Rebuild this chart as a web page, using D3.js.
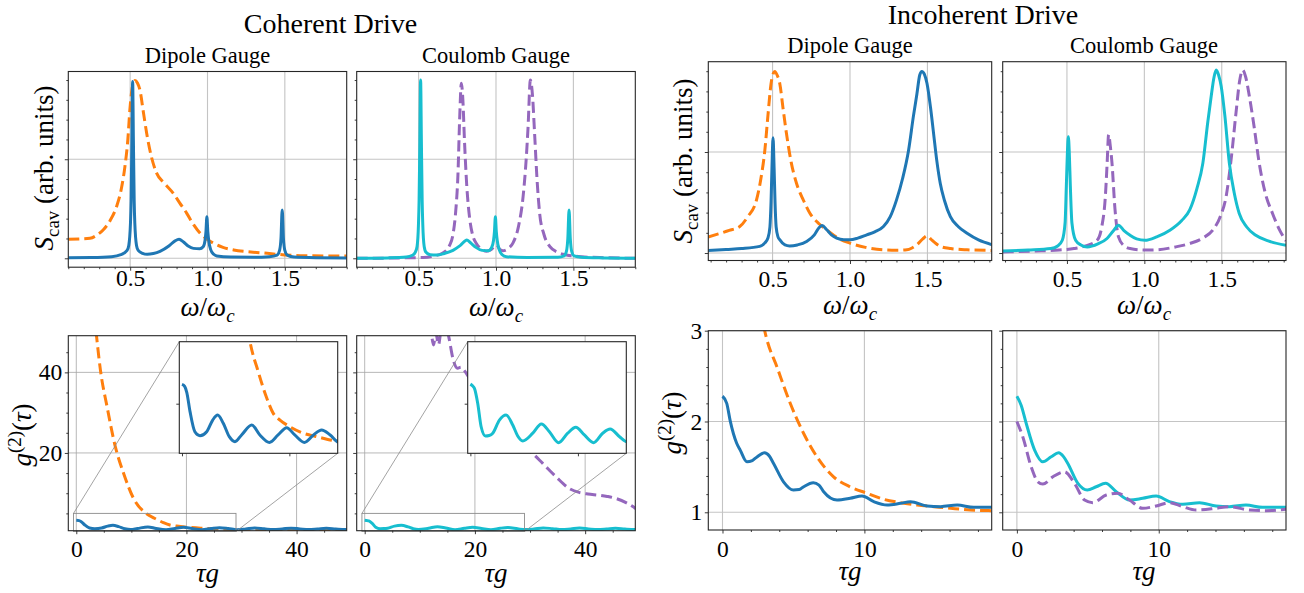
<!DOCTYPE html>
<html>
<head>
<meta charset="utf-8">
<script src="https://cdn.jsdelivr.net/npm/d3@7"></script>
<style>
  body { margin: 0; background: #fff; }
  svg, text, tspan { font-family: "Liberation Serif", "Times New Roman", Tinos, "DejaVu Serif", "Noto Serif", "Nimbus Roman", FreeSerif, "Latin Modern Roman", "CMU Serif", serif; }
  text { fill: #000; }
</style>
</head>
<body>
<svg id="fig" width="1304" height="593"><defs></defs></svg>
<script>

// ---------- data ----------
// spectra S_cav vs omega/omega_c  [x, S]
const cohDipoleSpec_blue = [[0.10,0.003],[0.25,0.004],[0.38,0.008],[0.44,0.018],[0.48,0.04],[0.491,0.065],[0.502,0.178],[0.506,0.29],[0.511,0.59],[0.516,0.892],[0.521,0.59],[0.526,0.29],[0.530,0.178],[0.541,0.065],[0.552,0.04],[0.58,0.025],[0.61,0.02],[0.65,0.024],[0.693,0.035],[0.75,0.062],[0.79,0.088],[0.816,0.096],[0.845,0.082],[0.875,0.062],[0.909,0.05],[0.95,0.048],[0.972,0.058],[0.984,0.09],[0.990,0.135],[0.996,0.21],[1.002,0.135],[1.008,0.09],[1.02,0.045],[1.04,0.02],[1.06,0.012],[1.15,0.006],[1.3,0.005],[1.40,0.008],[1.45,0.016],[1.466,0.04],[1.475,0.1],[1.483,0.244],[1.491,0.1],[1.50,0.04],[1.516,0.016],[1.56,0.006],[1.7,0.003],[1.9,0.002]];
const cohDipoleSpec_orange = [[0.10,0.096],[0.17,0.097],[0.24,0.101],[0.29,0.12],[0.325,0.143],[0.37,0.19],[0.412,0.261],[0.44,0.34],[0.466,0.463],[0.485,0.60],[0.498,0.749],[0.513,0.86],[0.531,0.897],[0.547,0.885],[0.563,0.85],[0.585,0.74],[0.607,0.63],[0.635,0.52],[0.671,0.43],[0.72,0.38],[0.779,0.328],[0.82,0.28],[0.866,0.227],[0.91,0.17],[0.953,0.126],[1.0,0.095],[1.039,0.076],[1.1,0.055],[1.169,0.042],[1.28,0.032],[1.386,0.025],[1.45,0.02],[1.5,0.017],[1.6,0.013],[1.75,0.012],[1.9,0.012]];
const cohCoulombSpec_cyan = [[0.10,0.0],[0.30,0.002],[0.42,0.006],[0.46,0.015],[0.478,0.03],[0.49,0.06],[0.499,0.17],[0.503,0.29],[0.508,0.59],[0.513,0.90],[0.518,0.59],[0.523,0.29],[0.527,0.17],[0.536,0.06],[0.548,0.03],[0.575,0.018],[0.615,0.016],[0.665,0.024],[0.722,0.04],[0.77,0.065],[0.812,0.092],[0.84,0.075],[0.87,0.055],[0.91,0.04],[0.95,0.038],[0.972,0.055],[0.984,0.09],[0.990,0.135],[0.996,0.21],[1.002,0.135],[1.008,0.09],[1.02,0.045],[1.04,0.018],[1.067,0.008],[1.2,0.004],[1.40,0.005],[1.44,0.012],[1.455,0.035],[1.464,0.1],[1.472,0.244],[1.48,0.1],[1.489,0.035],[1.505,0.012],[1.55,0.005],[1.7,0.002],[1.9,0.0]];
const cohCoulombSpec_purple = [[0.10,0.0],[0.40,0.002],[0.53,0.004],[0.60,0.012],[0.657,0.027],[0.70,0.065],[0.722,0.12],[0.74,0.24],[0.754,0.42],[0.765,0.70],[0.776,0.884],[0.786,0.80],[0.796,0.60],[0.81,0.38],[0.83,0.20],[0.85,0.115],[0.873,0.075],[0.90,0.05],[0.938,0.036],[0.97,0.045],[1.003,0.067],[1.025,0.045],[1.045,0.038],[1.08,0.05],[1.11,0.078],[1.145,0.16],[1.175,0.311],[1.195,0.50],[1.207,0.66],[1.222,0.90],[1.236,0.82],[1.25,0.62],[1.265,0.40],[1.282,0.227],[1.31,0.12],[1.347,0.06],[1.40,0.03],[1.455,0.017],[1.55,0.008],[1.7,0.003],[1.9,0.0]];

const incDipoleSpec_blue = [[0.083,0.013],[0.2,0.018],[0.3,0.022],[0.417,0.033],[0.45,0.05],[0.47,0.074],[0.483,0.13],[0.490,0.25],[0.496,0.42],[0.503,0.57],[0.510,0.42],[0.516,0.25],[0.523,0.13],[0.535,0.08],[0.546,0.066],[0.58,0.04],[0.61,0.035],[0.66,0.04],[0.72,0.057],[0.77,0.09],[0.80,0.125],[0.82,0.136],[0.85,0.115],[0.88,0.09],[0.914,0.074],[0.96,0.066],[1.0,0.066],[1.05,0.074],[1.108,0.09],[1.16,0.105],[1.216,0.131],[1.26,0.18],[1.30,0.262],[1.34,0.37],[1.378,0.508],[1.41,0.68],[1.432,0.787],[1.45,0.88],[1.464,0.899],[1.48,0.885],[1.497,0.84],[1.52,0.72],[1.54,0.59],[1.56,0.46],[1.583,0.344],[1.61,0.26],[1.648,0.18],[1.70,0.13],[1.756,0.098],[1.83,0.065],[1.918,0.041]];
const incDipoleSpec_orange = [[0.083,0.079],[0.15,0.095],[0.22,0.112],[0.288,0.131],[0.34,0.18],[0.396,0.262],[0.425,0.37],[0.45,0.508],[0.47,0.68],[0.49,0.837],[0.505,0.89],[0.514,0.899],[0.53,0.88],[0.547,0.837],[0.567,0.72],[0.59,0.59],[0.62,0.45],[0.655,0.344],[0.70,0.26],[0.741,0.197],[0.80,0.145],[0.849,0.115],[0.92,0.075],[1.0,0.049],[1.1,0.028],[1.216,0.016],[1.30,0.014],[1.367,0.016],[1.40,0.025],[1.432,0.041],[1.47,0.07],[1.497,0.085],[1.52,0.07],[1.55,0.05],[1.583,0.033],[1.65,0.022],[1.756,0.016],[1.918,0.013]];
const incCoulombSpec_cyan = [[0.085,0.01],[0.25,0.015],[0.396,0.022],[0.44,0.035],[0.47,0.063],[0.488,0.15],[0.496,0.33],[0.503,0.50],[0.509,0.575],[0.515,0.50],[0.522,0.33],[0.532,0.15],[0.556,0.063],[0.59,0.04],[0.631,0.03],[0.70,0.045],[0.759,0.072],[0.80,0.11],[0.833,0.138],[0.87,0.11],[0.908,0.088],[0.95,0.07],[1.004,0.063],[1.08,0.08],[1.165,0.113],[1.24,0.16],[1.293,0.213],[1.34,0.32],[1.378,0.445],[1.41,0.65],[1.432,0.777],[1.45,0.87],[1.464,0.906],[1.48,0.88],[1.496,0.827],[1.52,0.68],[1.549,0.445],[1.58,0.30],[1.613,0.196],[1.66,0.13],[1.72,0.088],[1.8,0.06],[1.915,0.038]];
const incCoulombSpec_purple = [[0.085,0.005],[0.3,0.01],[0.45,0.015],[0.545,0.022],[0.62,0.035],[0.695,0.063],[0.725,0.13],[0.748,0.279],[0.76,0.45],[0.769,0.586],[0.78,0.53],[0.791,0.445],[0.81,0.22],[0.833,0.08],[0.87,0.035],[0.908,0.022],[1.0,0.015],[1.08,0.016],[1.2,0.03],[1.293,0.047],[1.38,0.075],[1.442,0.113],[1.49,0.18],[1.528,0.279],[1.56,0.46],[1.592,0.694],[1.615,0.85],[1.635,0.906],[1.655,0.87],[1.678,0.777],[1.71,0.62],[1.742,0.445],[1.78,0.30],[1.828,0.196],[1.87,0.12],[1.915,0.06]];

// g2(tau) vs tau*g  [t, g2]
const cohDipoleG2_blue = [[0,3.28],[0.5,3.2],[0.9,2.95],[1.5,2.18],[2.4,1.37],[3.35,1.21],[4.6,1.37],[5.72,1.84],[6.65,2.04],[7.69,1.71],[8.81,1.17],[9.87,0.97],[11.1,1.24],[13.0,1.64],[14.5,1.24],[16.3,0.94],[17.9,1.24],[19.5,1.53],[21.0,1.24],[22.8,0.94],[24.5,1.24],[26.0,1.44],[27.6,1.24],[29.2,0.95],[30.8,1.15],[32.4,1.38],[34.1,1.17],[35.8,0.97],[37.4,1.14],[39.0,1.33],[40.6,1.15],[42.2,0.98],[43.8,1.12],[45.4,1.28],[47.1,1.12],[48.8,1.0],[49.5,1.02]];
const cohDipoleG2_orange = [[2.5,70],[3.0,58],[3.67,49.06],[4.39,40.5],[5.6,31.4],[7.1,21.5],[8.6,14.9],[10.4,8.7],[12.67,5.0],[14.2,3.79],[15.8,2.72],[17.0,2.11],[18.25,1.84],[20.1,1.57],[22.6,1.31],[25.1,1.17],[28.8,1.0],[35,0.96],[42,0.95],[49.5,0.95]];
const cohCoulombG2_cyan = [[0,3.29],[0.5,3.2],[0.75,3.12],[1.36,2.52],[2.0,1.57],[2.8,1.2],[3.5,1.22],[4.16,1.31],[5.4,1.84],[6.65,2.04],[7.88,1.64],[8.8,1.2],[9.74,1.0],[11.6,1.31],[13.2,1.68],[14.7,1.37],[16.4,0.93],[18.1,1.31],[19.6,1.55],[21.2,1.24],[22.9,0.93],[24.6,1.31],[26.0,1.48],[27.75,1.17],[29.1,0.97],[30.7,1.12],[32.4,1.4],[34.1,1.2],[35.8,0.97],[37.4,1.15],[39.0,1.35],[40.6,1.15],[42.3,0.98],[43.9,1.12],[45.5,1.3],[47.2,1.12],[49.0,1.0],[49.5,1.02]];
const cohCoulombG2_purple = [[10.5,60],[11.4,54],[12.0,50.5],[12.5,46.8],[12.9,49.8],[13.4,46.9],[13.9,51],[14.6,52.5],[15.3,48.5],[16.0,43.5],[16.85,41],[17.45,41.3],[18.05,40.5],[19,38.5],[20,36.5],[22,32.5],[24,28.5],[26,25.3],[28,22.5],[30.45,19.9],[32.3,17.4],[34.7,14.1],[37.1,11.2],[38.9,10.2],[40.5,9.8],[42.6,9.5],[44,9.2],[45.6,8.7],[47.5,7.6],[49.5,5.9]];

const incDipoleG2_blue = [[0,2.278],[0.3,2.2],[0.54,2.01],[1.0,1.76],[1.25,1.685],[1.72,1.556],[2.1,1.57],[2.43,1.61],[2.96,1.655],[3.3,1.62],[3.6,1.538],[4.3,1.336],[5.0,1.245],[5.4,1.25],[5.72,1.282],[6.4,1.326],[6.8,1.30],[7.13,1.227],[8.07,1.135],[9.0,1.154],[9.83,1.179],[10.66,1.117],[11.6,1.08],[12.54,1.099],[13.25,1.117],[14.42,1.069],[15.36,1.062],[16.54,1.08],[17.7,1.055],[19,1.055]];
const incDipoleG2_orange = [[2.9,3.05],[3.08,2.93],[3.84,2.6],[4.78,2.198],[5.72,1.868],[6.66,1.61],[7.83,1.39],[9.0,1.28],[10.19,1.209],[11.36,1.143],[12.54,1.106],[13.72,1.08],[14.9,1.062],[16.07,1.044],[17.48,1.025],[19,1.018]];
const incCoulombG2_cyan = [[0,2.278],[0.3,2.18],[0.66,1.978],[1.25,1.685],[1.83,1.556],[2.42,1.611],[2.94,1.655],[3.3,1.61],[3.59,1.538],[4.3,1.319],[4.96,1.245],[5.59,1.281],[6.25,1.319],[7.0,1.227],[7.94,1.135],[8.87,1.154],[9.82,1.179],[10.75,1.117],[11.69,1.088],[12.87,1.106],[14.04,1.069],[14.98,1.062],[16.15,1.08],[17.32,1.055],[19,1.055]];
const incCoulombG2_purple = [[0,2.0],[0.42,1.83],[1.01,1.5],[1.48,1.336],[1.83,1.311],[2.54,1.391],[3.36,1.446],[4.06,1.319],[4.77,1.135],[5.35,1.106],[6.3,1.19],[7.11,1.209],[7.94,1.135],[8.87,1.044],[9.82,1.069],[10.75,1.106],[11.69,1.062],[12.63,1.025],[14.04,1.044],[14.98,1.062],[16.39,1.025],[17.56,1.018],[19,1.033]];

// tick values
const specXMajor = [0.5, 1.0, 1.5],
    specYMajor = [0, 0.5];
const cohG2XMajor = [0, 20, 40],
    cohG2YMajor = [20, 40];
const incG2XMajor = [0, 10],
    incG2YMajor = [1, 2, 3];

// ---------- style ----------
const blue = "#1f77b4", orange = "#ff7f0e", cyan = "#17becf", purple = "#9467bd";
const FONT = '"Liberation Serif", "Times New Roman", Tinos, "DejaVu Serif", "Noto Serif", "Nimbus Roman", FreeSerif, serif';
const spineColor = "#262626";

const svg = d3.select("#fig").attr("font-family", FONT);
const defs = svg.select("defs");
let nClip = 0;

function inDom(v, dom) { return v >= Math.min(...dom) - 1e-9 && v <= Math.max(...dom) + 1e-9; }

function addAxis(g, axis, tr, fontSize) {
    const a = g.append("g").attr("transform", tr).call(axis);
    a.select(".domain").remove();
    a.selectAll("line").attr("stroke", spineColor).attr("stroke-width", 0.9);
    a.attr("font-family", FONT).attr("font-size", fontSize);
    return a;
}

// draw one axes box; returns its scales
function drawPanel(o) {
    const x = d3.scaleLinear().domain(o.xdom).range([o.x0, o.x1]);
    const y = d3.scaleLinear().domain(o.ydom).range([o.y1, o.y0]);
    const w = o.x1 - o.x0, h = o.y1 - o.y0;
    const g = svg.append("g");
    const cid = "clip" + (nClip++);
    defs.append("clipPath").attr("id", cid)
        .append("rect").attr("x", o.x0).attr("y", o.y0).attr("width", w).attr("height", h);

    g.append("rect").attr("x", o.x0).attr("y", o.y0).attr("width", w).attr("height", h).attr("fill", "#fff");
    const inner = g.append("g").attr("clip-path", `url(#${cid})`);

    if (o.grid) {
        o.xMajor.filter(v => inDom(v, o.xdom)).forEach(v => {
            inner.append("line").attr("x1", x(v)).attr("x2", x(v)).attr("y1", o.y0).attr("y2", o.y1)
                .attr("stroke", o.grid.color).attr("stroke-width", o.grid.width);
        });
        o.yMajor.filter(v => inDom(v, o.ydom)).forEach(v => {
            inner.append("line").attr("y1", y(v)).attr("y2", y(v)).attr("x1", o.x0).attr("x2", o.x1)
                .attr("stroke", o.grid.color).attr("stroke-width", o.grid.width);
        });
    }

    if (o.under) o.under(g, x, y);

    const line = d3.line().x(d => x(d[0])).y(d => y(d[1])).curve(d3.curveMonotoneX);
    o.curves.forEach(c => {
        inner.append("path").datum(c.data)
            .attr("d", line)
            .attr("fill", "none")
            .attr("stroke", c.color)
            .attr("stroke-width", 3)
            .attr("stroke-linejoin", "round")
            .attr("stroke-dasharray", c.dash ? "11,5" : null);
    });

    g.append("rect").attr("x", o.x0).attr("y", o.y0).attr("width", w).attr("height", h)
        .attr("fill", "none").attr("stroke", spineColor).attr("stroke-width", 1.1);

    const fs = 23.5;
    // x ticks
    addAxis(g, d3.axisBottom(x).tickValues(o.xMajor.filter(v => inDom(v, o.xdom)))
        .tickSizeInner(o.majLen || 3.5).tickSizeOuter(0).tickPadding(o.xPad != null ? o.xPad : 6.5)
        .tickFormat(o.xFmt ? d3.format(o.xFmt) : ""), `translate(0,${o.y1})`, fs);
    if (o.xMinor) addAxis(g, d3.axisBottom(x).tickValues(o.xMinor.filter(v => inDom(v, o.xdom)))
        .tickSizeInner(2).tickSizeOuter(0).tickFormat(""), `translate(0,${o.y1})`, fs);
    // y ticks
    addAxis(g, d3.axisLeft(y).tickValues(o.yMajor.filter(v => inDom(v, o.ydom)))
        .tickSizeInner(o.majLen || 3.5).tickSizeOuter(0).tickPadding(2.5)
        .tickFormat(o.yFmt ? d3.format(o.yFmt) : ""), `translate(${o.x0},0)`, fs);
    if (o.yMinor) addAxis(g, d3.axisLeft(y).tickValues(o.yMinor.filter(v => inDom(v, o.ydom)))
        .tickSizeInner(2).tickSizeOuter(0).tickFormat(""), `translate(${o.x0},0)`, fs);

    return {x, y, g};
}

// text with italic / sub / superscript pieces
function richText(x, y, size, parts, rotate) {
    const t = svg.append("text").attr("x", x).attr("y", y)
        .attr("font-size", size).attr("text-anchor", "middle").attr("font-family", FONT);
    if (rotate) t.attr("transform", `rotate(-90,${x},${y})`);
    let shift = 0;
    parts.forEach(p => {
        const s = t.append("tspan").text(p.t);
        if (p.it) s.attr("font-style", "italic");
        const target = p.sub ? size * 0.22 : (p.sup ? -size * 0.36 : 0);
        if (target !== shift) { s.attr("dy", target - shift); shift = target; }
        if (p.sub || p.sup) s.attr("font-size", size * 0.7);
    });
    return t;
}

function plainText(x, y, size, str) {
    return svg.append("text").attr("x", x).attr("y", y).attr("text-anchor", "middle")
        .attr("font-size", size).attr("font-family", FONT).text(str);
}

const omegaLabel = [{t: "ω", it: true}, {t: "/"}, {t: "ω", it: true}, {t: "c", it: true, sub: true}];
const tauLabel = [{t: "τg", it: true}];
const specLabel = [{t: "S", it: true}, {t: "cav", sub: true}, {t: " (arb. units)"}];
const g2Label = [{t: "g", it: true}, {t: "(2)", sup: true}, {t: "("}, {t: "τ", it: true}, {t: ")"}];

const specXMinor = d3.range(1, 20).map(i => i / 10).filter(v => !specXMajor.some(m => Math.abs(m - v) < 1e-9));
const specYMinor = d3.range(1, 10).map(i => i / 10).filter(v => Math.abs(v - 0.5) > 1e-9);
const cohG2Minor = [5, 10, 15, 25, 30, 35, 45];
const incG2XMinor = [2, 4, 6, 8, 12, 14, 16, 18];
const incG2YMinor = d3.range(1, 10).map(i => 1 + i / 5).filter(v => Math.abs(v - 2) > 1e-9);

const lightGrid = {color: "#c4c4c4", width: 1.1};
const darkGrid = {color: "#a6a6a6", width: 0.8};

// ---------- Coherent drive ----------
const cohCols = [[68.3, 346.7], [356.7, 635.3]];
const cohTop = [71.5, 267.2], cohBot = [335.7, 530.7];

[[cohDipoleSpec_blue, cohDipoleSpec_orange, blue, orange],
 [cohCoulombSpec_cyan, cohCoulombSpec_purple, cyan, purple]].forEach((s, i) => {
    drawPanel({
        x0: cohCols[i][0], x1: cohCols[i][1], y0: cohTop[0], y1: cohTop[1],
        xdom: [0.1, 1.9], ydom: [-0.045, 0.943],
        xMajor: specXMajor, yMajor: specYMajor, xMinor: specXMinor, yMinor: specYMinor,
        xFmt: ".1f", xPad: -1.2, grid: lightGrid,
        curves: [{data: s[1], color: s[3], dash: true}, {data: s[0], color: s[2]}]
    });
});

// inset zoom box in data units of the g2 panels
const insetXDom = [-0.5, 29], insetYDom = [0.5, 5];

[[cohDipoleG2_blue, cohDipoleG2_orange, blue, orange],
 [cohCoulombG2_cyan, cohCoulombG2_purple, cyan, purple]].forEach((s, i) => {
    const ix0 = cohCols[i][0] + 111, ix1 = cohCols[i][1] - 9, iy0 = 341.7, iy1 = 453.3;
    drawPanel({
        x0: cohCols[i][0], x1: cohCols[i][1], y0: cohBot[0], y1: cohBot[1],
        xdom: [-1.45, 49.1], ydom: [0.7, 49.1],
        xMajor: cohG2XMajor, yMajor: cohG2YMajor, xMinor: cohG2Minor, yMinor: cohG2Minor,
        xFmt: "d", yFmt: i === 0 ? "d" : null, grid: darkGrid,
        under: (g, x, y) => {
            const rx0 = x(insetXDom[0]), rx1 = x(insetXDom[1]), ry0 = y(insetYDom[1]), ry1 = y(insetYDom[0]);
            g.append("rect").attr("x", rx0).attr("y", ry0).attr("width", rx1 - rx0).attr("height", ry1 - ry0)
                .attr("fill", "none").attr("stroke", "#8c8c8c").attr("stroke-width", 0.9);
            g.append("line").attr("x1", ix0).attr("y1", iy0).attr("x2", rx0).attr("y2", ry0)
                .attr("stroke", "#8c8c8c").attr("stroke-width", 0.8);
            g.append("line").attr("x1", ix1).attr("y1", iy1).attr("x2", rx1).attr("y2", ry1)
                .attr("stroke", "#8c8c8c").attr("stroke-width", 0.8);
        },
        curves: [{data: s[1], color: s[3], dash: true}, {data: s[0], color: s[2]}]
    });
    // inset
    drawPanel({
        x0: ix0, x1: ix1, y0: iy0, y1: iy1,
        xdom: insetXDom, ydom: insetYDom,
        xMajor: [0, 20], yMajor: [2.5], majLen: 3,
        curves: [{data: s[1], color: s[3], dash: true}, {data: s[0], color: s[2]}]
    });
});

// ---------- Incoherent drive ----------
const incCols = [[708.3, 991.7], [1002.7, 1286]];
const incTop = [61.7, 260.5], incBot = [330.7, 530];

[[incDipoleSpec_blue, incDipoleSpec_orange, blue, orange],
 [incCoulombSpec_cyan, incCoulombSpec_purple, cyan, purple]].forEach((s, i) => {
    drawPanel({
        x0: incCols[i][0], x1: incCols[i][1], y0: incTop[0], y1: incTop[1],
        xdom: [0.085, 1.915], ydom: [-0.037, 0.947],
        xMajor: specXMajor, yMajor: specYMajor, xMinor: specXMinor, yMinor: specYMinor,
        xFmt: ".1f", xPad: 6.5, grid: lightGrid,
        curves: [{data: s[1], color: s[3], dash: true}, {data: s[0], color: s[2]}]
    });
});

[[incDipoleG2_blue, incDipoleG2_orange, blue, orange],
 [incCoulombG2_cyan, incCoulombG2_purple, cyan, purple]].forEach((s, i) => {
    drawPanel({
        x0: incCols[i][0], x1: incCols[i][1], y0: incBot[0], y1: incBot[1],
        xdom: [-1, 18.97], ydom: [0.805, 3.0],
        xMajor: incG2XMajor, yMajor: incG2YMajor, xMinor: incG2XMinor, yMinor: incG2YMinor,
        xFmt: "d", yFmt: i === 0 ? "d" : null, grid: lightGrid,
        curves: i === 0
            ? [{data: s[1], color: s[3], dash: true}, {data: s[0], color: s[2]}]
            : [{data: s[0], color: s[2]}, {data: s[1], color: s[3], dash: true}]
    });
});

// ---------- titles and labels ----------
plainText(330.5, 33, 28, "Coherent Drive");
plainText(983, 23.5, 28, "Incoherent Drive");

plainText(207.5, 63.3, 22.5, "Dipole Gauge");
plainText(496, 63.3, 22.5, "Coulomb Gauge");
plainText(850, 53.3, 22.5, "Dipole Gauge");
plainText(1144, 53.3, 22.5, "Coulomb Gauge");

richText(207.5, 316, 27, omegaLabel);
richText(496, 316, 27, omegaLabel);
richText(850, 314, 27, omegaLabel);
richText(1144, 314, 27, omegaLabel);

richText(207.5, 582, 27, tauLabel);
richText(496, 582, 27, tauLabel);
richText(850, 580, 27, tauLabel);
richText(1144, 580, 27, tauLabel);

richText(53, 168, 27, specLabel, true);
richText(692, 161, 27, specLabel, true);
richText(31, 435, 27, g2Label, true);
richText(681, 423, 27, g2Label, true);

</script>
</body>
</html>
